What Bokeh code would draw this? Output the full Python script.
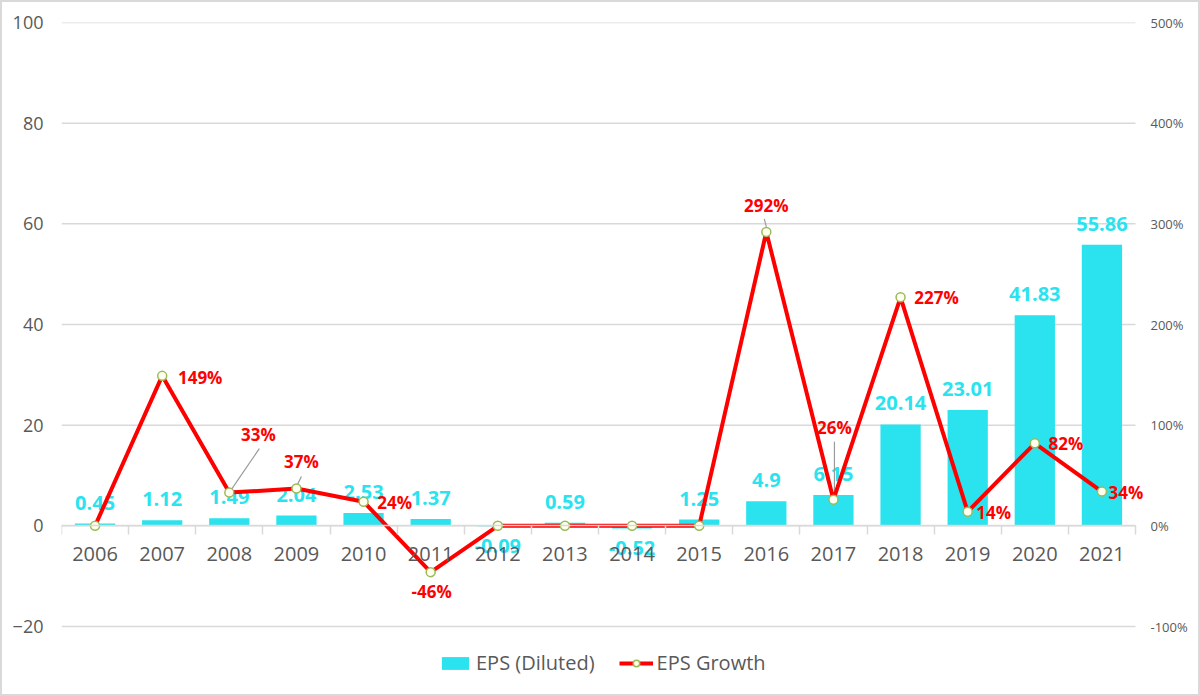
from bokeh.plotting import figure
from bokeh.layouts import column
from bokeh.models import (ColumnDataSource, Range1d, LinearAxis, FixedTicker,
                          Legend, LegendItem)
from bokeh.core.properties import value
from bokeh.embed import file_html
from bokeh.resources import INLINE

years = ["2006", "2007", "2008", "2009", "2010", "2011", "2012", "2013",
         "2014", "2015", "2016", "2017", "2018", "2019", "2020", "2021"]
eps_diluted = [0.45, 1.12, 1.49, 2.04, 2.53, 1.37, -0.09, 0.59,
               -0.52, 1.25, 4.9, 6.15, 20.14, 23.01, 41.83, 55.86]
eps_growth = [0, 149, 33, 37, 24, -46, 0, 0, 0, 0, 292, 26, 227, 14, 82, 34]
left_ticks = [-20, 0, 20, 40, 60, 80, 100]
right_ticks = [-100, 0, 100, 200, 300, 400, 500]

# label placement (styling, screen pixel offsets)
growth_dx = [0, 38, 29, 5, 31, 1, 0, 0, 0, 0, 0, 1, 36, 26, 31, 24]
growth_dy = [0, 2, -58, -27, 1, 19, 0, 0, 0, 0, -26, -72, 0, 1, 0, 1]

CYAN = "#2AE3EF"
RED = "#FF0000"
GREY = "#595959"
GRID = "#D9D9D9"
FONT = "Open Sans"

BW = 2                                # outer border width
W, H = 1200 - 2 * BW, 696 - 2 * BW
PLOT_L, PLOT_R = 61, 1135             # category area in page pixels
FRAME_R = 1150                        # frame extends a bit so labels are not clipped
L, R, T, B = PLOT_L - BW, (1200 - BW) - FRAME_R, 22 - BW, 2
FW, FH = W - L - R, H - T - B
GRID_BOTTOM_PX = 626 - 22
px_left = (100 - (-20)) / GRID_BOTTOM_PX
px_pct = (500 - (-100)) / GRID_BOTTOM_PX
extra = FH - GRID_BOTTOM_PX
y_lo = -20 - extra * px_left
pct_lo = -100 - extra * px_pct
n = len(years)
px_x = n / (PLOT_R - PLOT_L)
x_hi = n - 0.5 + (FRAME_R - PLOT_R) * px_x

idx = list(range(n))
p = figure(width=W, height=H, output_backend="svg", toolbar_location=None,
           x_range=Range1d(-0.5, x_hi), y_range=Range1d(y_lo, 100),
           x_axis_location=None, y_axis_location=None,
           min_border_left=L, min_border_right=R, min_border_top=T, min_border_bottom=B)
p.extra_y_ranges = {"pct": Range1d(pct_lo, 500)}
p.outline_line_color = None
p.background_fill_color = "white"
p.border_fill_color = "white"
p.xgrid.grid_line_color = None
p.ygrid.grid_line_color = None

# horizontal gridlines over the category area only
p.segment(x0=[-0.5] * len(left_ticks), x1=[n - 0.5] * len(left_ticks),
          y0=left_ticks, y1=left_ticks, line_color=GRID, line_width=1.5)

# left axis
ly = LinearAxis(ticker=FixedTicker(ticks=left_ticks))
ly.axis_line_color = None
ly.major_tick_line_color = None
ly.major_tick_out = 0
ly.minor_tick_line_color = None
ly.minor_tick_out = 0
ly.major_label_text_font = FONT
ly.major_label_text_font_size = "18px"
ly.major_label_text_color = GREY
ly.major_label_standoff = 18
p.add_layout(ly, "left")

# right axis
ry = LinearAxis(y_range_name="pct", ticker=FixedTicker(ticks=right_ticks),
                major_label_overrides={t: f"{t}%" for t in right_ticks})
ry.axis_line_color = None
ry.major_tick_line_color = None
ry.major_tick_out = 0
ry.minor_tick_line_color = None
ry.minor_tick_out = 0
ry.major_label_text_font = FONT
ry.major_label_text_font_size = "13px"
ry.major_label_text_color = GREY
ry.major_label_text_align = "left"
ry.major_label_standoff = 0
p.add_layout(ry, "right")

# category axis at zero
bounds = [i - 0.5 for i in range(n + 1)]
xa = LinearAxis(ticker=FixedTicker(ticks=idx, minor_ticks=bounds),
                major_label_overrides={i: y for i, y in enumerate(years)},
                fixed_location=0, bounds=(-0.5, n - 0.5))
xa.axis_line_color = GRID
xa.axis_line_width = 1.5
xa.major_tick_line_color = None
xa.minor_tick_line_color = GRID
xa.minor_tick_line_width = 1.5
xa.minor_tick_out = 9
xa.minor_tick_in = 0
xa.major_label_text_font = FONT
xa.major_label_text_font_size = "20px"
xa.major_label_text_color = GREY
xa.major_label_standoff = 12
p.add_layout(xa, "below")

# bars
bar_src = ColumnDataSource(dict(
    x=idx, top=eps_diluted,
    lbl=[f"{v:g}" for v in eps_diluted],
    base=["bottom" if v >= 0 else "top" for v in eps_diluted],
    yoff=[-14 if v >= 0 else 13 for v in eps_diluted],
))
bars = p.vbar(x="x", top="top", bottom=0, width=0.6, source=bar_src,
              fill_color=CYAN, line_color=None)
p.text(x="x", y="top", text="lbl", source=bar_src, text_align="center",
       text_baseline="base", y_offset="yoff", text_color=CYAN,
       text_font=value(FONT), text_font_size="20px", text_font_style="bold")

# leader lines (grey) from some growth labels to their points
lead_i = [2, 3, 11, 10]
lead_sx = [30, 5, 1, -2]       # start, px from point (x)
lead_sy = [-44, -12, -58, -13] # start, px from point (y, down positive)
lead_ex = [2, 1, 1, 0]
lead_ey = [-3, -4, -4, -5]
p.segment(x0=[idx[i] + sx * px_x for i, sx in zip(lead_i, lead_sx)],
          y0=[eps_growth[i] - sy * px_pct for i, sy in zip(lead_i, lead_sy)],
          x1=[idx[i] + ex * px_x for i, ex in zip(lead_i, lead_ex)],
          y1=[eps_growth[i] - ey * px_pct for i, ey in zip(lead_i, lead_ey)],
          y_range_name="pct", line_color="#9A9A9A", line_width=1.2)

# growth line
g_src = ColumnDataSource(dict(
    x=idx, y=eps_growth,
    lbl=["" if v == 0 else f"{v:.0f}%" for v in eps_growth],
    dx=growth_dx, dy=growth_dy,
))
gl = p.line(x="x", y="y", source=g_src, y_range_name="pct",
            line_color=RED, line_width=4, line_join="round")
gm = p.scatter(x="x", y="y", source=g_src, y_range_name="pct", size=9,
               fill_color="#FFFFF0", line_color="#9BBB59", line_width=1.5)
p.text(x="x", y="y", text="lbl", source=g_src, y_range_name="pct",
       x_offset="dx", y_offset="dy", text_align="center", text_baseline="middle",
       text_color=RED, text_font=value(FONT), text_font_size="17px",
       text_font_style="bold")

legend = Legend(items=[LegendItem(label="EPS (Diluted)", renderers=[bars]),
                       LegendItem(label="EPS Growth", renderers=[gl, gm])],
                orientation="horizontal", location=(436 - 61 + 2, FH - (676 - 22)),
                label_text_font=FONT, label_text_font_size="20px",
                label_text_color=GREY, glyph_width=34, glyph_height=16,
                spacing=24, padding=0, margin=0, label_standoff=4,
                border_line_color=None, background_fill_alpha=0)
p.add_layout(legend, "center")

page = column(p, styles={"border": f"{BW}px solid #D9D9D9"})
open("out.html", "w").write(file_html(page, INLINE))
